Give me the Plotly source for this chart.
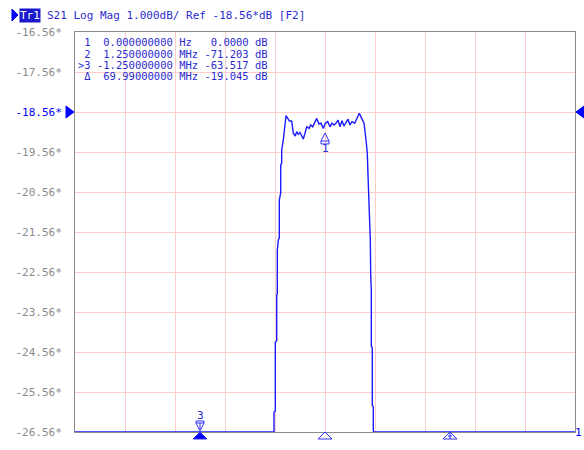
import numpy as np
import plotly.graph_objects as go

# ---------------- data ----------------
freq_mhz = [-2.5, -1.25, -0.51, -0.51, -0.497, -0.497, -0.483, -0.483, -0.477, -0.477,
            -0.467, -0.457, -0.457, -0.443, -0.443, -0.433, -0.433, -0.417, -0.405, -0.39,
            -0.357, -0.333, -0.317, -0.297, -0.283, -0.267, -0.25, -0.233, -0.217, -0.2,
            -0.183, -0.16, -0.143, -0.123, -0.107, -0.083, -0.06, -0.04, -0.017, 0.003,
            0.027, 0.05, 0.07, 0.09, 0.11, 0.13, 0.15, 0.17, 0.19, 0.21,
            0.23, 0.25, 0.27, 0.297, 0.323, 0.343, 0.367, 0.39, 0.41, 0.423,
            0.43, 0.437, 0.447, 0.453, 0.457, 0.463, 0.463, 0.473, 0.473, 0.483,
            0.483, 0.49, 1.25, 2.5]
mag_db = [-26.56, -26.56, -26.56, -26.06, -26.035, -24.31, -24.285, -23.135, -23.11, -22.01,
          -21.76, -21.71, -20.76, -20.585, -19.885, -19.835, -19.51, -19.26, -18.885, -18.65,
          -18.78, -18.79, -19.09, -19.16, -19.05, -19.12, -19.07, -19.18, -19.235, -19.09,
          -18.93, -18.97, -18.885, -18.93, -18.84, -18.72, -18.86, -18.84, -18.97, -18.84,
          -18.80, -18.93, -18.84, -18.885, -18.84, -18.76, -18.93, -18.78, -18.91, -18.84,
          -18.74, -18.885, -18.80, -18.84, -18.72, -18.59, -18.72, -18.84, -19.26, -19.585,
          -20.135, -20.51, -21.135, -21.76, -22.635, -23.01, -24.41, -24.46, -25.885, -25.935,
          -26.535, -26.56, -26.56, -26.56]

y_tick_vals = [-16.56, -17.56, -18.56, -19.56, -20.56, -21.56,
               -22.56, -23.56, -24.56, -25.56, -26.56]
ref_level = -18.56
x_start, x_stop, x_div = -2.5, 2.5, 0.5

marker_ids = ["1", "2", "3"]
marker_freq = [0.0, 1.25, -1.25]
active_marker = "3"

table_rows = [" 1  0.000000000 Hz   0.0000 dB",
              " 2  1.250000000 MHz -71.203 dB",
              ">3 -1.250000000 MHz -63.517 dB",
              " \u0394  69.99000000 MHz -19.045 dB"]
trace_label = "Tr1"
title_text = "S21 Log Mag 1.000dB/ Ref -18.56*dB [F2]"

# ---------------- styling ----------------
BLUE = "#1a1aff"
TXT_BLUE = "#2b2bd0"
GRAY = "#8a8a8a"
GRID = "#ffcccc"
MONO = "DejaVu Sans Mono"

W, H = 584, 450
L, R, T, B = 75, 9, 32, 18
PW = W - L - R


def nb(s):
    return s.replace(" ", "\u00a0")


fig = go.Figure()
fig.add_trace(go.Scatter(x=freq_mhz, y=mag_db, mode="lines",
                         line=dict(color=BLUE, width=1.4), hoverinfo="skip",
                         showlegend=False))

ticktext = []
for v in y_tick_vals:
    t = f"{v:.2f}*"
    if abs(v - ref_level) < 1e-9:
        t = f'<span style="color:#0000ff">{t}</span>'
    ticktext.append(t)

shapes = []
annotations = []

# reference level triangles (left, pointing right; right, pointing left)
shapes.append(dict(type="path", xref="paper", yref="y", xsizemode="pixel", ysizemode="pixel",
                   xanchor=0, yanchor=ref_level, path="M -9,6 L -1,0 L -9,-6 Z",
                   fillcolor="#0000ff", line=dict(color="#0000ff", width=1)))
shapes.append(dict(type="path", xref="paper", yref="y", xsizemode="pixel", ysizemode="pixel",
                   xanchor=1, yanchor=ref_level, path="M 9,6 L 1,0 L 9,-6 Z",
                   fillcolor="#0000ff", line=dict(color="#0000ff", width=1)))

# stimulus markers below the axis
for mid, f in zip(marker_ids, marker_freq):
    filled = (mid == active_marker)
    shapes.append(dict(type="path", xref="x", yref="paper", xsizemode="pixel", ysizemode="pixel",
                       xanchor=f, yanchor=0, path="M -7,-7 L 0,0 L 7,-7 Z",
                       fillcolor="#0000ff" if filled else "rgba(0,0,0,0)",
                       line=dict(color="#3030ff", width=1)))
    if mid == "2":
        shapes.append(dict(type="path", xref="x", yref="paper", xsizemode="pixel", ysizemode="pixel",
                           xanchor=f, yanchor=0, path="M 0,-1 L 0,-7 M -2,-4 L 2,-4",
                           line=dict(color="#3030ff", width=1)))

# on-trace marker symbols
val1 = float(np.interp(marker_freq[0], freq_mhz, mag_db))
shapes.append(dict(type="path", xref="x", yref="y", xsizemode="pixel", ysizemode="pixel",
                   xanchor=marker_freq[0], yanchor=val1,
                   path="M 0,-9 L -4,-17 L 4,-17 Z M -4,-17 L -4,-20 L 4,-20 L 4,-17",
                   fillcolor="rgba(0,0,0,0)", line=dict(color="#3030ff", width=1)))
annotations.append(dict(x=marker_freq[0], y=val1, xref="x", yref="y", text="1",
                        showarrow=False, yshift=-25, font=dict(family=MONO, size=11, color=TXT_BLUE)))

val3 = float(np.interp(marker_freq[2], freq_mhz, mag_db))
shapes.append(dict(type="path", xref="x", yref="y", xsizemode="pixel", ysizemode="pixel",
                   xanchor=marker_freq[2], yanchor=val3,
                   path="M 0,1 L -4,9 L 4,9 Z M -4,9 L -4,11 L 4,11 L 4,9 M 0,3 L 0,9",
                   fillcolor="rgba(0,0,0,0)", line=dict(color="#3030ff", width=1)))
annotations.append(dict(x=marker_freq[2], y=val3, xref="x", yref="y", text="3",
                        showarrow=False, yshift=17, font=dict(family=MONO, size=11, color=TXT_BLUE)))

# marker table
row_y = [42.3, 53.6, 64.9, 76.2]
for txt, yp in zip(table_rows, row_y):
    annotations.append(dict(x=(77 - L) / PW, y=1, xref="paper", yref="paper", xanchor="left",
                            yanchor="middle", yshift=-(yp - T), text=nb(txt), showarrow=False,
                            borderpad=0,
                            font=dict(family=MONO, size=10.5, color=TXT_BLUE)))

# title line
shapes.append(dict(type="path", xref="paper", yref="paper", xsizemode="pixel", ysizemode="pixel",
                   xanchor=0, yanchor=1, path=f"M {12-L},{T-9} L {18-L},{T-15} L {12-L},{T-21} Z",
                   fillcolor="#0000ff", line=dict(color="#0000ff", width=1)))
annotations.append(dict(x=(19 - L) / PW, y=1, xref="paper", yref="paper", xanchor="left",
                        yanchor="middle", yshift=T - 15, text=trace_label, showarrow=False,
                        bgcolor="#1a1acc", borderpad=0,
                        font=dict(family=MONO, size=11, color="white")))
annotations.append(dict(x=(45 - L) / PW, y=1, xref="paper", yref="paper", xanchor="left",
                        yanchor="middle", yshift=T - 15, text=nb(title_text), showarrow=False,
                        font=dict(family=MONO, size=11, color=TXT_BLUE)))

# channel number bottom-right
annotations.append(dict(x=1, y=0, xref="paper", yref="paper", xanchor="left", yanchor="middle",
                        text="1", showarrow=False, xshift=-1, borderpad=0,
                        font=dict(family=MONO, size=11, color="#0000ff")))

fig.update_layout(
    width=W, height=H, autosize=False,
    margin=dict(l=L, r=R, t=T, b=B),
    paper_bgcolor="white", plot_bgcolor="white",
    shapes=shapes, annotations=annotations,
    xaxis=dict(range=[x_start, x_stop], dtick=x_div, tick0=x_start, showticklabels=False,
               showgrid=True, gridcolor=GRID, gridwidth=1, zeroline=False,
               showline=True, linecolor=GRAY, linewidth=1, mirror=True, ticks=""),
    yaxis=dict(range=[y_tick_vals[-1], y_tick_vals[0]], tickvals=y_tick_vals, ticktext=ticktext,
               showgrid=True, gridcolor=GRID, gridwidth=1, zeroline=False,
               showline=True, linecolor=GRAY, linewidth=1, mirror=True,
               ticks="", ticklabelstandoff=10,
               tickfont=dict(family=MONO, size=11, color=GRAY)),
)

fig.write_html("out.html", config={"displayModeBar": False},
               post_script="document.body.style.margin='0px';document.body.style.padding='0px';")
